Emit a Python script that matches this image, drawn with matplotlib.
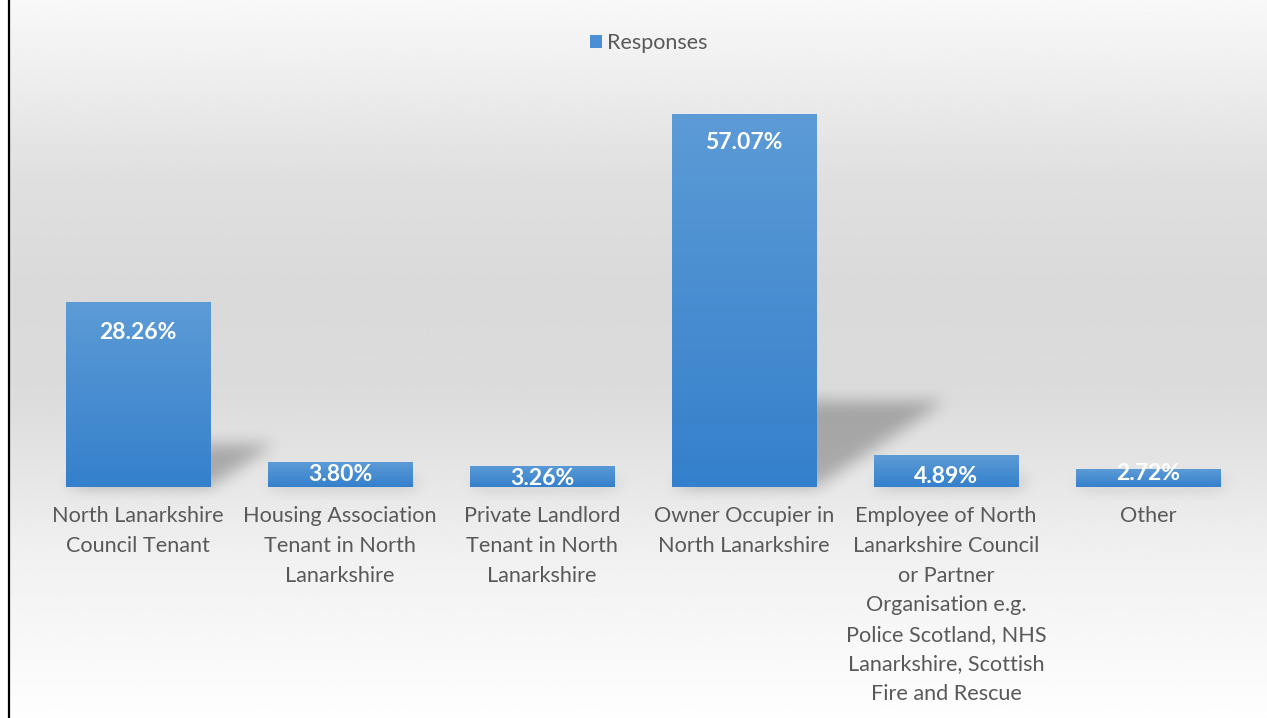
import numpy as np
import matplotlib.pyplot as plt
from matplotlib.lines import Line2D
from matplotlib.colors import LinearSegmentedColormap

categories = [
    "North Lanarkshire\nCouncil Tenant",
    "Housing Association\nTenant in North\nLanarkshire",
    "Private Landlord\nTenant in North\nLanarkshire",
    "Owner Occupier in\nNorth Lanarkshire",
    "Employee of North\nLanarkshire Council\nor Partner\nOrganisation e.g.\nPolice Scotland, NHS\nLanarkshire, Scottish\nFire and Rescue",
    "Other",
]
values = [28.26, 3.80, 3.26, 57.07, 4.89, 2.72]
value_labels = ["28.26%", "3.80%", "3.26%", "57.07%", "4.89%", "2.72%"]
series_name = "Responses"

# pixel drop of each data label below the bar top (Excel "inside end")
label_drop = [30, 12, 13, 28, 21, 4]

W, H = 1267, 718
fig = plt.figure(figsize=(W / 100, H / 100), dpi=100)
fig.patch.set_facecolor("white")
plt.rcParams['font.family'] = ['Lato', 'DejaVu Sans']

# background gradient of the chart area (row 0 = top)
bg = fig.add_axes([9 / W, 0, 1 - 9 / W, 1])
bg.set_axis_off()
stops = [(0.0, 0.975), (0.25, 0.875), (0.40, 0.853), (0.55, 0.86), (0.78, 0.945), (1.0, 0.995)]
yy = np.linspace(0, 1, 400)
grey = np.interp(yy, [s[0] for s in stops], [s[1] for s in stops])
bg.imshow(np.repeat(grey[:, None], 2, axis=1), cmap="gray", vmin=0, vmax=1,
          aspect="auto", extent=[0, 1, 0, 1], origin="upper", interpolation="bilinear")
bg.set_xlim(0, 1)
bg.set_ylim(0, 1)

fig.add_artist(Line2D([8.5 / W, 8.5 / W], [0, 1], color="black", lw=1.6))

# main plot area
x_left, x_right = 37, 1249
base_y, top_y = 487, 95
ymax = 60
ax = fig.add_axes([x_left / W, (H - base_y) / H, (x_right - x_left) / W, (base_y - top_y) / H])
ax.set_facecolor("none")
for s in ax.spines.values():
    s.set_visible(False)
ax.set_yticks([])

x = np.arange(len(values))
width = 0.713

# blurred perspective shadows behind bars
px_w = x_right - x_left
px_h = base_y - top_y
pad = 30
gx = np.arange(px_w)
gy = np.arange(-pad, px_h)
GX, GY = np.meshgrid(gx, gy)
mask = np.zeros(GX.shape)
ppx = px_w / len(values)
ppy = px_h / ymax
for i, v in enumerate(values):
    hs = 0.23 * v * ppy
    x0 = (i + 0.5 - width / 2) * ppx
    x1 = (i + 0.5 + width / 2) * ppx
    inside = (GY >= 0) & (GY <= hs) & (GX >= x0 + GY * 1.5) & (GX <= x1 + GY * 1.5)
    mask[inside] = 1.0


def box_blur(a, r, axis):
    c = np.cumsum(np.pad(a, [(r + 1, r) if k == axis else (0, 0) for k in range(2)], mode="edge"), axis=axis)
    n = a.shape[axis]
    hi = np.take(c, np.arange(2 * r + 1, 2 * r + 1 + n), axis=axis)
    lo = np.take(c, np.arange(0, n), axis=axis)
    return (hi - lo) / (2 * r + 1)


for _ in range(3):
    mask = box_blur(mask, 7, 0)
    mask = box_blur(mask, 7, 1)

rgba = np.zeros(mask.shape + (4,))
rgba[..., 3] = mask * 0.26
ax.imshow(rgba[::-1], extent=[-0.5, len(values) - 0.5, -pad / ppy, ymax],
          aspect="auto", zorder=1, clip_on=False, interpolation="bilinear")

bars = ax.bar(x, values, width=width, color="#4a8fd4", zorder=2, label=series_name)

blue = LinearSegmentedColormap.from_list("bluegrad", ["#3580cc", "#5c9bd6"])
grad = np.linspace(0, 1, 256)[:, None]
for b in bars:
    im = ax.imshow(grad, cmap=blue, aspect="auto", origin="lower", zorder=3,
                   extent=[b.get_x(), b.get_x() + b.get_width(), 0, b.get_height()])
    im.set_clip_path(b)

ax.set_xlim(-0.5, len(values) - 0.5)
ax.set_ylim(0, ymax)

for i, v in enumerate(values):
    ax.annotate(value_labels[i], (x[i], v), xytext=(0, -label_drop[i] * 0.72),
                textcoords="offset points", ha="center", va="center",
                color="white", fontsize=16.5, fontweight="bold", zorder=5)

ax.set_xticks(x)
ax.set_xticklabels(categories, fontsize=15.6, color="#595959", linespacing=1.6)
ax.tick_params(axis="x", length=0, pad=14)

leg = fig.legend(handles=[bars], labels=[series_name], loc="center",
                 bbox_to_anchor=(649 / W, 1 - 43 / H), frameon=False,
                 fontsize=15.5, handlelength=0.55, handleheight=0.55, handletextpad=0.25)
for t in leg.get_texts():
    t.set_color("#595959")

fig.savefig("out.png", dpi=100)
